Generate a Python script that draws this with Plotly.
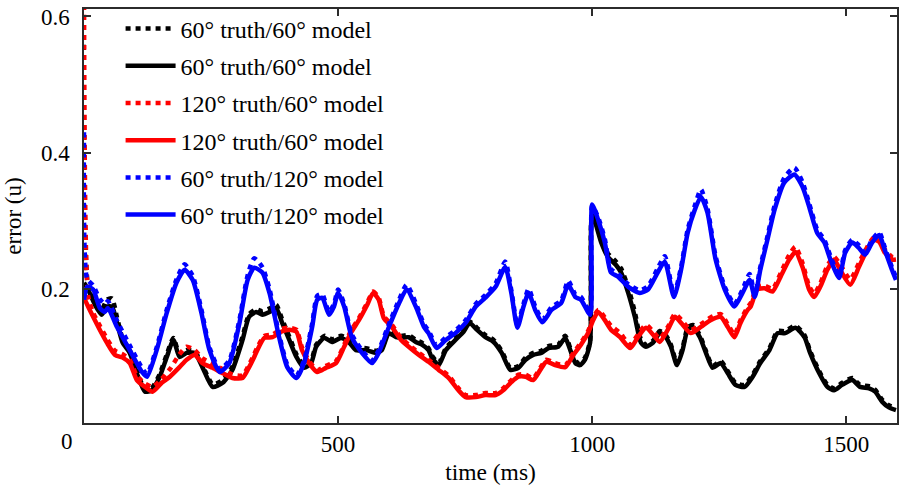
import plotly.graph_objects as go

# Time stamps (ms) for each model pairing
T_BLACK = [0, 8, 22, 35, 45, 55, 65, 76, 90, 104,
           120, 133, 149, 163, 176, 188, 202, 218, 233, 253,
           273, 292, 312, 325, 339, 351, 365, 378, 390, 404,
           418, 433, 447, 457, 473, 488, 506, 522, 535, 555,
           575, 586, 600, 614, 625, 639, 653, 665, 678, 684,
           698, 712, 731, 747, 759, 773, 790, 806, 822, 839,
           855, 869, 884, 900, 914, 933, 947, 957, 967, 976,
           986, 996, 1000, 1018, 1031, 1047, 1057, 1071, 1084, 1096,
           1106, 1120, 1133, 1145, 1155, 1167, 1178, 1188, 1198, 1212,
           1224, 1237, 1253, 1267, 1282, 1300, 1316, 1331, 1349, 1365,
           1380, 1400, 1418, 1429, 1447, 1463, 1476, 1492, 1512, 1527,
           1545, 1557, 1571, 1584, 1598]

ERR_60_60_DOT = [0.72, 0.205, 0.182, 0.170, 0.184, 0.186, 0.158, 0.127, 0.110, 0.080,
                 0.052, 0.054, 0.075, 0.104, 0.128, 0.104, 0.110, 0.108, 0.088, 0.060,
                 0.066, 0.086, 0.130, 0.163, 0.170, 0.167, 0.171, 0.177, 0.155, 0.130,
                 0.104, 0.088, 0.095, 0.118, 0.131, 0.126, 0.131, 0.125, 0.114, 0.113,
                 0.109, 0.113, 0.138, 0.133, 0.131, 0.132, 0.125, 0.121, 0.113, 0.103,
                 0.091, 0.113, 0.128, 0.140, 0.152, 0.143, 0.132, 0.125, 0.109, 0.084,
                 0.087, 0.099, 0.106, 0.109, 0.116, 0.118, 0.131, 0.113, 0.094, 0.091,
                 0.099, 0.124, 0.312, 0.272, 0.252, 0.240, 0.230, 0.202, 0.166, 0.126,
                 0.118, 0.124, 0.138, 0.132, 0.118, 0.091, 0.113, 0.143, 0.147, 0.132,
                 0.109, 0.087, 0.094, 0.079, 0.062, 0.059, 0.074, 0.094, 0.113, 0.138,
                 0.138, 0.146, 0.132, 0.109, 0.079, 0.059, 0.054, 0.062, 0.069, 0.059,
                 0.057, 0.052, 0.037, 0.029, 0.025]

ERR_60_60 = [0.209, 0.199, 0.176, 0.162, 0.174, 0.174, 0.150, 0.121, 0.106, 0.076,
             0.049, 0.051, 0.071, 0.100, 0.125, 0.100, 0.106, 0.106, 0.085, 0.056,
             0.062, 0.081, 0.125, 0.159, 0.166, 0.162, 0.166, 0.172, 0.150, 0.125,
             0.100, 0.084, 0.091, 0.115, 0.128, 0.122, 0.128, 0.121, 0.110, 0.110,
             0.106, 0.110, 0.135, 0.129, 0.128, 0.129, 0.122, 0.118, 0.110, 0.100,
             0.088, 0.110, 0.125, 0.137, 0.150, 0.140, 0.129, 0.122, 0.106, 0.081,
             0.084, 0.096, 0.103, 0.106, 0.113, 0.115, 0.128, 0.110, 0.091, 0.088,
             0.096, 0.121, 0.310, 0.268, 0.247, 0.235, 0.224, 0.194, 0.159, 0.121,
             0.115, 0.121, 0.135, 0.129, 0.115, 0.088, 0.110, 0.140, 0.144, 0.129,
             0.106, 0.084, 0.091, 0.076, 0.059, 0.056, 0.071, 0.091, 0.110, 0.135,
             0.135, 0.143, 0.129, 0.106, 0.076, 0.056, 0.051, 0.059, 0.066, 0.056,
             0.054, 0.049, 0.034, 0.026, 0.022]

T_RED = [0, 8, 18, 31, 45, 61, 76, 90, 104, 120,
         135, 153, 169, 188, 202, 218, 233, 253, 273, 292,
         312, 325, 335, 341, 355, 371, 388, 404, 418, 429,
         443, 459, 476, 496, 512, 525, 541, 557, 569, 580,
         590, 606, 624, 639, 659, 678, 698, 718, 737, 751,
         771, 790, 810, 825, 841, 855, 869, 884, 898, 910,
         927, 947, 963, 978, 992, 1002, 1012, 1025, 1037, 1055,
         1075, 1090, 1106, 1124, 1133, 1149, 1163, 1175, 1194, 1214,
         1233, 1253, 1267, 1280, 1292, 1306, 1312, 1325, 1339, 1355,
         1371, 1388, 1400, 1414, 1427, 1437, 1449, 1463, 1476, 1488,
         1508, 1525, 1541, 1555, 1565, 1576, 1590, 1598]

ERR_120_60_DOT = [0.72, 0.190, 0.165, 0.146, 0.127, 0.109, 0.104, 0.096, 0.072, 0.061,
                  0.056, 0.068, 0.082, 0.104, 0.115, 0.110, 0.098, 0.090, 0.082, 0.074,
                  0.073, 0.089, 0.104, 0.114, 0.131, 0.133, 0.141, 0.143, 0.140, 0.114,
                  0.094, 0.081, 0.087, 0.094, 0.118, 0.138, 0.157, 0.179, 0.196, 0.187,
                  0.160, 0.147, 0.128, 0.118, 0.106, 0.096, 0.084, 0.072, 0.054, 0.044,
                  0.044, 0.047, 0.047, 0.054, 0.066, 0.074, 0.074, 0.069, 0.084, 0.096,
                  0.091, 0.088, 0.106, 0.121, 0.138, 0.157, 0.169, 0.158, 0.146, 0.135,
                  0.118, 0.133, 0.147, 0.134, 0.127, 0.144, 0.163, 0.155, 0.140, 0.148,
                  0.158, 0.163, 0.148, 0.133, 0.154, 0.173, 0.179, 0.203, 0.205, 0.200,
                  0.223, 0.250, 0.262, 0.238, 0.204, 0.193, 0.208, 0.234, 0.247, 0.236,
                  0.214, 0.238, 0.261, 0.276, 0.274, 0.258, 0.247, 0.246]

ERR_120_60 = [0.187, 0.174, 0.159, 0.140, 0.121, 0.103, 0.099, 0.091, 0.066, 0.056,
              0.049, 0.062, 0.071, 0.085, 0.096, 0.103, 0.091, 0.084, 0.076, 0.069,
              0.069, 0.085, 0.100, 0.110, 0.128, 0.129, 0.137, 0.140, 0.137, 0.110,
              0.091, 0.078, 0.084, 0.091, 0.115, 0.135, 0.154, 0.176, 0.194, 0.184,
              0.157, 0.144, 0.125, 0.115, 0.103, 0.093, 0.081, 0.069, 0.051, 0.041,
              0.041, 0.044, 0.044, 0.051, 0.063, 0.071, 0.071, 0.066, 0.081, 0.093,
              0.088, 0.085, 0.103, 0.118, 0.135, 0.154, 0.166, 0.154, 0.140, 0.129,
              0.113, 0.129, 0.143, 0.129, 0.122, 0.140, 0.159, 0.150, 0.135, 0.144,
              0.154, 0.159, 0.144, 0.129, 0.150, 0.169, 0.174, 0.199, 0.201, 0.196,
              0.218, 0.243, 0.254, 0.232, 0.199, 0.188, 0.203, 0.228, 0.243, 0.228,
              0.206, 0.232, 0.257, 0.272, 0.269, 0.253, 0.243, 0.243]

T_BLUE = [0, 6, 18, 31, 41, 47, 65, 90, 114, 124,
          143, 163, 182, 198, 214, 231, 247, 267, 286, 306,
          322, 335, 351, 365, 384, 400, 418, 433, 449, 459,
          469, 482, 492, 500, 512, 527, 547, 567, 580, 600,
          620, 635, 653, 669, 678, 694, 712, 731, 751, 771,
          790, 810, 829, 841, 853, 865, 875, 888, 902, 920,
          939, 953, 967, 978, 996, 1000, 1012, 1025, 1037, 1051,
          1071, 1094, 1110, 1129, 1143, 1161, 1175, 1188, 1202, 1214,
          1227, 1243, 1261, 1280, 1296, 1310, 1320, 1331, 1345, 1359,
          1378, 1398, 1414, 1427, 1443, 1457, 1469, 1486, 1498, 1512,
          1525, 1537, 1551, 1565, 1576, 1590, 1598]

ERR_60_120_DOT = [0.430, 0.215, 0.205, 0.185, 0.178, 0.182, 0.153, 0.117, 0.084, 0.075,
                  0.114, 0.170, 0.214, 0.236, 0.219, 0.170, 0.114, 0.082, 0.095, 0.155,
                  0.220, 0.245, 0.232, 0.200, 0.133, 0.089, 0.073, 0.095, 0.149, 0.190,
                  0.192, 0.166, 0.178, 0.199, 0.178, 0.133, 0.110, 0.095, 0.110, 0.148,
                  0.184, 0.206, 0.179, 0.148, 0.139, 0.117, 0.129, 0.139, 0.154, 0.178,
                  0.191, 0.208, 0.240, 0.198, 0.147, 0.178, 0.200, 0.174, 0.155, 0.173,
                  0.183, 0.212, 0.192, 0.188, 0.166, 0.322, 0.305, 0.273, 0.229, 0.222,
                  0.207, 0.198, 0.204, 0.230, 0.248, 0.192, 0.232, 0.287, 0.322, 0.346,
                  0.318, 0.248, 0.203, 0.178, 0.199, 0.222, 0.192, 0.232, 0.277, 0.322,
                  0.363, 0.378, 0.357, 0.326, 0.287, 0.272, 0.248, 0.220, 0.257, 0.272,
                  0.264, 0.254, 0.272, 0.283, 0.261, 0.232, 0.217]

ERR_60_120 = [0.184, 0.203, 0.199, 0.172, 0.166, 0.172, 0.144, 0.110, 0.078, 0.071,
              0.110, 0.165, 0.209, 0.228, 0.213, 0.165, 0.110, 0.078, 0.091, 0.150,
              0.213, 0.231, 0.224, 0.194, 0.129, 0.085, 0.069, 0.091, 0.144, 0.184,
              0.187, 0.162, 0.174, 0.194, 0.174, 0.129, 0.106, 0.091, 0.106, 0.144,
              0.179, 0.199, 0.174, 0.144, 0.135, 0.113, 0.125, 0.135, 0.150, 0.174,
              0.187, 0.203, 0.232, 0.194, 0.143, 0.174, 0.194, 0.169, 0.151, 0.169,
              0.179, 0.206, 0.188, 0.184, 0.162, 0.324, 0.301, 0.268, 0.224, 0.218,
              0.203, 0.194, 0.199, 0.224, 0.240, 0.188, 0.228, 0.282, 0.316, 0.335,
              0.312, 0.243, 0.199, 0.174, 0.194, 0.213, 0.188, 0.228, 0.272, 0.316,
              0.356, 0.368, 0.350, 0.321, 0.282, 0.268, 0.243, 0.216, 0.253, 0.268,
              0.260, 0.250, 0.268, 0.279, 0.257, 0.228, 0.213]

X_TICKS = [500, 1000, 1500]
Y_TICKS = [0.2, 0.4, 0.6]
Y_TICK_TEXT = ["0.2", "0.4", "0.6"]

FONT = "Liberation Serif"
AXIS_COLOR = "#2b2b2b"
DOTTED = "5px,5px"

series = [
    ("60° truth/60° model", T_BLACK, ERR_60_60_DOT, "#000000", DOTTED),
    ("60° truth/60° model", T_BLACK, ERR_60_60, "#000000", "solid"),
    ("120° truth/60° model", T_RED, ERR_120_60_DOT, "#ff0000", DOTTED),
    ("120° truth/60° model", T_RED, ERR_120_60, "#ff0000", "solid"),
    ("60° truth/120° model", T_BLUE, ERR_60_120_DOT, "#0000ff", DOTTED),
    ("60° truth/120° model", T_BLUE, ERR_60_120, "#0000ff", "solid"),
]

fig = go.Figure()
for i, (name, t, err, color, dash) in enumerate(series):
    fig.add_trace(go.Scatter(
        x=t, y=err, mode="lines", name=name, legendgroup=f"g{i}",
        line=dict(color=color, width=4.5, dash=dash, shape="spline", smoothing=0.6),
    ))

fig.update_layout(
    width=899, height=485,
    margin=dict(l=84, r=0, t=9, b=62),
    paper_bgcolor="white", plot_bgcolor="white",
    font=dict(family=FONT, size=23, color="#000000"),
    showlegend=True,
    legend=dict(
        x=0.045, y=1.006, xanchor="left", yanchor="top",
        bgcolor="rgba(0,0,0,0)", font=dict(family=FONT, size=24),
        tracegroupgap=3, itemwidth=50,
    ),
    xaxis=dict(
        range=[0, 1600], tickvals=X_TICKS,
        showline=True, linecolor=AXIS_COLOR, linewidth=1.5, mirror="ticks",
        ticks="inside", ticklen=7, tickcolor=AXIS_COLOR, tickwidth=1.5,
        showgrid=False, zeroline=False,
        title=dict(text="time (ms)", standoff=7, font=dict(family=FONT, size=23.5)),
    ),
    yaxis=dict(
        range=[0.003, 0.611], tickvals=Y_TICKS, ticktext=Y_TICK_TEXT,
        showline=True, linecolor=AXIS_COLOR, linewidth=1.5, mirror="ticks",
        ticks="inside", ticklen=7, tickcolor=AXIS_COLOR, tickwidth=1.5,
        showgrid=False, zeroline=False, ticklabelstandoff=8,
        title=dict(text="error (u)", standoff=13, font=dict(family=FONT, size=23)),
    ),
    annotations=[dict(
        text="0", xref="paper", yref="paper", x=-0.021, y=0,
        xanchor="center", yanchor="top", yshift=-4, showarrow=False,
        font=dict(family=FONT, size=23),
    )],
)

fig.write_html("out.html")
